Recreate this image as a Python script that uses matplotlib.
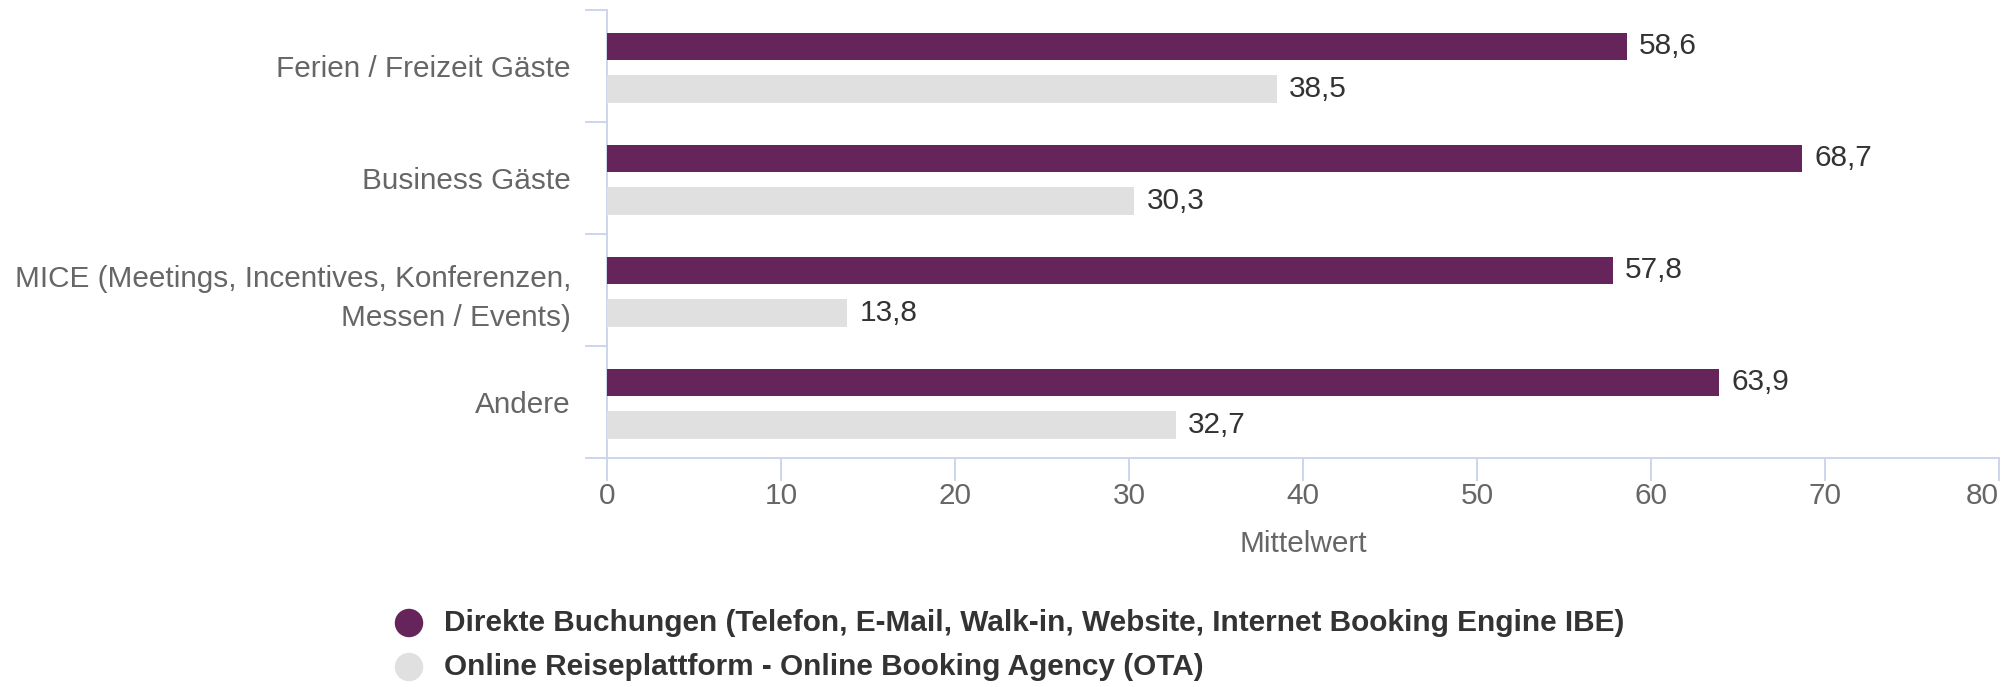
import matplotlib
matplotlib.use("Agg")
import matplotlib.pyplot as plt
import numpy as np

plt.rcParams['font.family'] = ['Liberation Sans', 'DejaVu Sans']

categories = [
    "Ferien / Freizeit Gäste",
    "Business Gäste",
    "MICE (Meetings, Incentives, Konferenzen,\nMessen / Events)",
    "Andere",
]
direkt = [58.6, 68.7, 57.8, 63.9]
ota = [38.5, 30.3, 13.8, 32.7]
series_names = [
    "Direkte Buchungen (Telefon, E-Mail, Walk-in, Website, Internet Booking Engine IBE)",
    "Online Reiseplattform - Online Booking Agency (OTA)",
]
x_ticks = [0, 10, 20, 30, 40, 50, 60, 70, 80]
x_label = "Mittelwert"

PURPLE = "#65245a"
GREY = "#e0e0e0"
AXIS = "#ccd6eb"
TEXT = "#666666"
DARK = "#333333"
FS = 21.4

fig = plt.figure(figsize=(20.06, 6.87), dpi=100)
ax = fig.add_axes([0.3026, 0.3333, 0.6939, 0.6521])

pos = np.arange(len(categories))
h = 0.245
off = 0.19
bars1 = ax.barh(pos - off + 0.015, direkt, height=h, color=PURPLE, zorder=3)
bars2 = ax.barh(pos + off + 0.015, ota, height=h, color=GREY, zorder=3)

for bars, vals in ((bars1, direkt), (bars2, ota)):
    for b, v in zip(bars, vals):
        ax.text(b.get_width() + 0.7, b.get_y() + b.get_height() / 2,
                f"{v:.1f}".replace(".", ","), va="center", ha="left",
                fontsize=FS, color=DARK)

ax.set_xlim(0, 80)
ax.set_ylim(len(categories) - 0.5, -0.5)
ax.set_xticks(x_ticks)
ax.set_xticklabels([str(t) for t in x_ticks])
ax.set_yticks(pos)
ax.set_yticklabels(categories, fontsize=FS, color=TEXT, linespacing=1.5)
ax.set_yticks(np.arange(-0.5, len(categories)), minor=True)

ax.tick_params(axis="y", which="major", length=0, pad=26)
ax.tick_params(axis="y", which="minor", length=16, width=1.4, color=AXIS)
ax.tick_params(axis="x", which="major", length=16.5, width=1.4, color=AXIS,
               labelsize=FS, labelcolor=TEXT, pad=1)
# keep the last tick label inside the plot edge
ax.get_xticklabels()[-1].set_horizontalalignment("right")

for s in ("top", "right"):
    ax.spines[s].set_visible(False)
ax.spines["left"].set_color(AXIS)
ax.spines["left"].set_linewidth(1.4)
ax.spines["bottom"].set_color(AXIS)
ax.spines["bottom"].set_linewidth(1.4)

ax.set_xlabel(x_label, fontsize=FS, color=TEXT, labelpad=14)

# legend
ax_leg = fig.add_axes([0, 0, 1, 1], facecolor="none")
ax_leg.set_xlim(0, 2006)
ax_leg.set_ylim(687, 0)
ax_leg.axis("off")
for (y, c, name) in ((623, PURPLE, series_names[0]), (667, GREY, series_names[1])):
    ax_leg.scatter([409], [y], s=420, color=c, edgecolors="none")
    ax_leg.text(444, y, name, va="center", ha="left", fontsize=FS,
                color=DARK, fontweight="bold")

fig.savefig("out.png", dpi=100, facecolor="white")
